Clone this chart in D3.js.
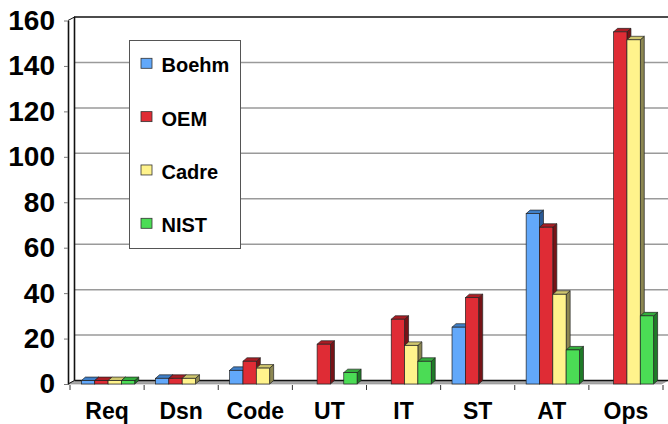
<!DOCTYPE html>
<html>
<head>
<meta charset="utf-8">
<script src="https://cdn.jsdelivr.net/npm/d3@7"></script>
<style>
  html, body { margin: 0; padding: 0; background: #ffffff; }
  svg { display: block; }
  text { font-family: "Liberation Sans", Arial, sans-serif; font-weight: bold; fill: #000; }
</style>
</head>
<body>
<svg id="chart" width="668" height="424"></svg>
<script>
// ---- data ----
const categories = ["Req", "Dsn", "Code", "UT", "IT", "ST", "AT", "Ops"];
const seriesNames = ["Boehm", "OEM", "Cadre", "NIST"];
const boehm = [1.5, 2.5, 6, null, null, 25, 75, null];
const oem   = [1.5, 2.5, 10, 17.5, 28.5, 38, 69, 155];
const cadre = [1.5, 2.5, 7, null, 17, null, 39.5, 151.5];
const nist  = [1.5, null, null, 5, 10, null, 15, 30];
const yTicks = [0, 20, 40, 60, 80, 100, 120, 140, 160];

const seriesValues = [boehm, oem, cadre, nist];
const colors = [
  { front: "#62a8fa", top: "#3f7fc8", side: "#2a5a96" },
  { front: "#df2c35", top: "#aa1d24", side: "#771317" },
  { front: "#fff38c", top: "#cfc66e", side: "#8c8752" },
  { front: "#4bdc55", top: "#33ad3c", side: "#1f7a28" }
];

const svg = d3.select("#chart");
svg.append("rect").attr("width", 668).attr("height", 424).attr("fill", "#fff");

// scales
const y = d3.scaleLinear().domain([0, 160]).range([384, 20.5]);
const wallDx = 6.5, wallDy = -3.5;   // depth of back wall
const barDx = 4, barDy = -3.5;       // depth of bars
const x = d3.scaleBand().domain(categories).range([70, 663]).paddingInner(0).paddingOuter(0);
const xs = d3.scaleBand().domain(seriesNames).range([0, x.bandwidth()]).paddingInner(0).paddingOuter(0.78);

const rightEdge = 668;

// back wall gridlines
const grid = svg.append("g");
yTicks.filter(v => v > 0 && v < 160).forEach(v => {
  grid.append("line")
    .attr("x1", 68 + wallDx).attr("x2", rightEdge)
    .attr("y1", y(v) + wallDy).attr("y2", y(v) + wallDy)
    .attr("stroke", "#9a9a9a").attr("stroke-width", 1.5);
});
// top border of back wall
svg.append("line")
  .attr("x1", 68 + wallDx - 0.5).attr("x2", rightEdge)
  .attr("y1", y(160) + wallDy).attr("y2", y(160) + wallDy)
  .attr("stroke", "#111").attr("stroke-width", 1.6);

// floor
svg.append("path")
  .attr("d", `M68,${y(0)} L${68 + wallDx},${y(0) + wallDy} L${rightEdge},${y(0) + wallDy} L${rightEdge - wallDx},${y(0)} Z`)
  .attr("fill", "#a9a9a9").attr("stroke", "#8a8a8a").attr("stroke-width", 0.6);
svg.append("line")
  .attr("x1", 68 + wallDx).attr("x2", rightEdge)
  .attr("y1", y(0) + wallDy).attr("y2", y(0) + wallDy)
  .attr("stroke", "#111").attr("stroke-width", 1.6);

// left wall inner line
svg.append("line")
  .attr("x1", 68 + wallDx).attr("x2", 68 + wallDx)
  .attr("y1", y(160) + wallDy).attr("y2", y(0) + wallDy)
  .attr("stroke", "#111").attr("stroke-width", 1.6);
svg.append("line")
  .attr("x1", 68).attr("x2", 68 + wallDx)
  .attr("y1", y(0)).attr("y2", y(0) + wallDy)
  .attr("stroke", "#111").attr("stroke-width", 1);
svg.append("line")
  .attr("x1", 68).attr("x2", 68 + wallDx)
  .attr("y1", y(160)).attr("y2", y(160) + wallDy)
  .attr("stroke", "#111").attr("stroke-width", 1);

// y axis
const yAxis = svg.append("g")
  .attr("transform", "translate(68,0)")
  .call(d3.axisLeft(y).tickValues(yTicks).tickSizeInner(4).tickSizeOuter(0).tickPadding(9));
yAxis.select(".domain").attr("stroke", "#111").attr("stroke-width", 1.6);
yAxis.selectAll(".tick line").attr("stroke", "#777");
yAxis.selectAll("text").style("font-size", "28px").attr("fill", "#000")
  .style("font-family", "'Liberation Sans', Arial, sans-serif").style("font-weight", "bold");

// x axis: boundary ticks
const bounds = categories.map(c => x(c)).concat([x.range()[1]]);
svg.append("g").selectAll("line").data(bounds).join("line")
  .attr("x1", d => d).attr("x2", d => d)
  .attr("y1", y(0) + 1).attr("y2", y(0) + 6)
  .attr("stroke", "#333").attr("stroke-width", 1);

// bars
const barsG = svg.append("g");
categories.forEach((c, ci) => {
  seriesNames.forEach((s, si) => {
    const v = seriesValues[si][ci];
    if (v == null) return;
    const x0 = x(c) + xs(s) + 1;
    const w = xs.bandwidth();
    const yt = y(v), yb = y(0);
    const col = colors[si];
    const g = barsG.append("g");
    // side
    g.append("path")
      .attr("d", `M${x0 + w},${yt} L${x0 + w + barDx},${yt + barDy} L${x0 + w + barDx},${yb + barDy} L${x0 + w},${yb} Z`)
      .attr("fill", col.side).attr("stroke", "#222").attr("stroke-width", 0.7).attr("stroke-linejoin", "round");
    // top
    g.append("path")
      .attr("d", `M${x0},${yt} L${x0 + barDx},${yt + barDy} L${x0 + w + barDx},${yt + barDy} L${x0 + w},${yt} Z`)
      .attr("fill", col.top).attr("stroke", "#222").attr("stroke-width", 0.7).attr("stroke-linejoin", "round");
    // front
    g.append("rect")
      .attr("x", x0).attr("y", yt).attr("width", w).attr("height", yb - yt)
      .attr("fill", col.front).attr("stroke", "#222").attr("stroke-width", 0.7);
  });
});

// x labels
const xAxis = svg.append("g")
  .attr("transform", `translate(0,${y(0)})`)
  .call(d3.axisBottom(x).tickSize(0).tickPadding(19));
xAxis.select(".domain").remove();
xAxis.selectAll("text").style("font-size", "23px").attr("fill", "#000")
  .style("font-family", "'Liberation Sans', Arial, sans-serif").style("font-weight", "bold");

// legend
const legend = svg.append("g");
legend.append("rect")
  .attr("x", 129.5).attr("y", 40.5).attr("width", 111).attr("height", 208)
  .attr("fill", "#fff").attr("stroke", "#555").attr("stroke-width", 1);
const ly = d3.scalePoint().domain(seriesNames).range([63.3, 223.3]);
seriesNames.forEach((s, i) => {
  legend.append("rect")
    .attr("x", 141).attr("y", ly(s) - 5).attr("width", 11).attr("height", 10)
    .attr("fill", colors[i].front).attr("stroke", "#333").attr("stroke-width", 0.8);
  legend.append("text")
    .attr("x", 161.5).attr("y", ly(s) + 9)
    .style("font-size", "20px")
    .text(s);
});
</script>
</body>
</html>
